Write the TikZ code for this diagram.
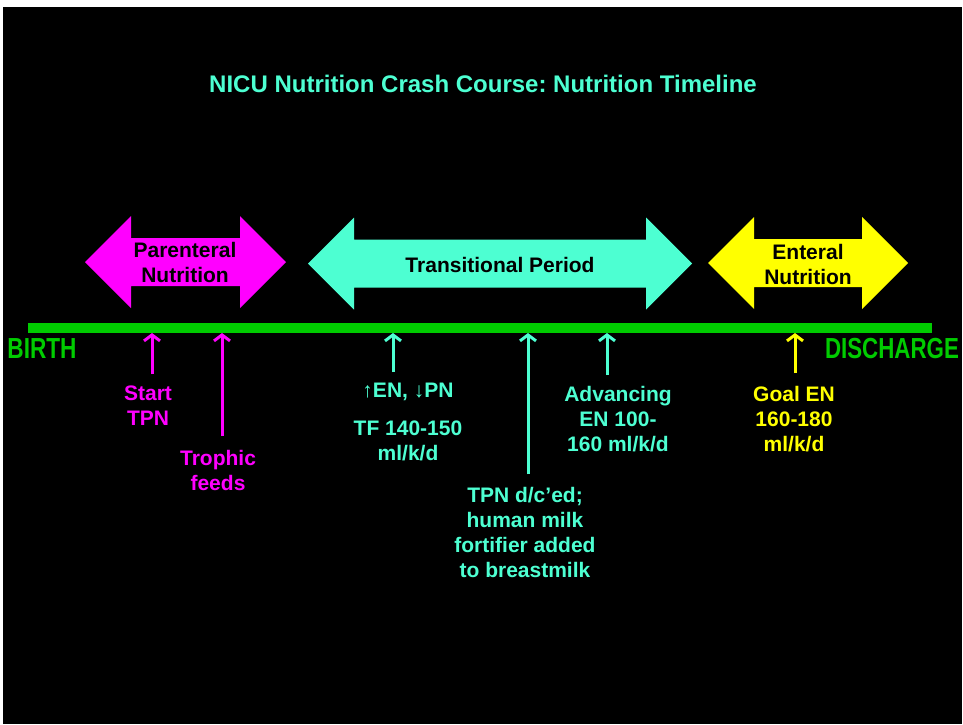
\documentclass[tikz,border=0pt]{standalone}
\usepackage{graphicx}
\usepackage{fontspec}
\setmainfont{Liberation Sans}
\frenchspacing
\usetikzlibrary{arrows.meta,positioning}
\definecolor{tlAqua}{RGB}{77,255,210}
\definecolor{tlPink}{RGB}{255,0,255}
\definecolor{tlGreen}{RGB}{0,204,0}
\definecolor{tlYellow}{RGB}{255,255,0}
% double headed period arrow: left tip, right tip, centre y, colour
\newcommand{\periodarrow}[4]{%
	\fill[#4] (#1,#3) -- (#1+46,#3-46) -- (#1+46,#3-24) -- (#2-46,#3-24)
	-- (#2-46,#3-46) -- (#2,#3) -- (#2-46,#3+46) -- (#2-46,#3+24)
	-- (#1+46,#3+24) -- (#1+46,#3+46) -- cycle;}

\begin{document}
\begin{tikzpicture}[x=1pt,y=-1pt,
	every node/.style={font=\bfseries\fontsize{21}{25}\selectfont,align=center,inner sep=0pt},
	label/.style={anchor=north},
	pointer/.style={line width=3pt,-{Straight Barb[length=6pt,width=16pt]}},
	bigword/.style={font=\bfseries\fontsize{29}{29}\selectfont,text=tlGreen}]
	\useasboundingbox (0,0) rectangle (963,724);
	\fill[white] (0,0) rectangle (963,724);
	\fill[black] (3,7) rectangle (962,724);

	\node[text=tlAqua,font=\bfseries\fontsize{24}{28}\selectfont] (title) at (483,84)
		{NICU Nutrition Crash Course: Nutrition Timeline};

	% periods
	\periodarrow{85}{286}{262}{tlPink}
	\periodarrow{308}{692}{263.5}{tlAqua}
	\periodarrow{708}{908}{263}{tlYellow}
	\node (pn) at (185,262) {Parenteral\\Nutrition};
	\node (trans) at (500,265) {Transitional Period};
	\node (en) at (808,264.5) {Enteral\\Nutrition};

	% time line
	\fill[tlGreen] (28,323) rectangle (932,333);
	\node[bigword] (birth) at (42,349) {\scalebox{0.78}[1]{BIRTH}};
	\node[bigword] (discharge) at (892,349) {\scalebox{0.77}[1]{DISCHARGE}};
	\coordinate (t1) at (152,333);
	\coordinate (t2) at (222,333);
	\coordinate (t3) at (393,333);
	\coordinate (t4) at (528,333);
	\coordinate (t5) at (607,333);
	\coordinate (t6) at (795,333);

	% events
	\node[label,text=tlPink] (start) at (148,386) {Start\\TPN};
	\node[label,text=tlPink] (trophic) at (218,450) {Trophic\\feeds};
	\node[label,text=tlAqua] (shift) at (408,383) {↑EN, ↓PN};
	\node[label,text=tlAqua] (tf) at (408,421) {TF 140-150\\ml/k/d};
	\node[label,text=tlAqua] (tpndc) at (525,487)
		{TPN d/c’ed;\\human milk\\fortifier added\\to breastmilk};
	\node[label,text=tlAqua] (adv) at (618,386) {Advancing\\EN 100-\\160 ml/k/d};
	\node[label,text=tlYellow] (goal) at (794,386) {Goal EN\\160-180\\ml/k/d};

	\draw[pointer,tlPink] ([yshift=12pt]start.north -| t1) -- (t1);
	\draw[pointer,tlPink] ([yshift=14pt]trophic.north -| t2) -- (t2);
	\draw[pointer,tlAqua] ([yshift=11pt]shift.north -| t3) -- (t3);
	\draw[pointer,tlAqua] ([yshift=13pt]tpndc.north -| t4) -- (t4);
	\draw[pointer,tlAqua] ([yshift=11pt]adv.north -| t5) -- (t5);
	\draw[pointer,tlYellow] ([yshift=13pt]goal.north -| t6) -- (t6);
\end{tikzpicture}
\end{document}
